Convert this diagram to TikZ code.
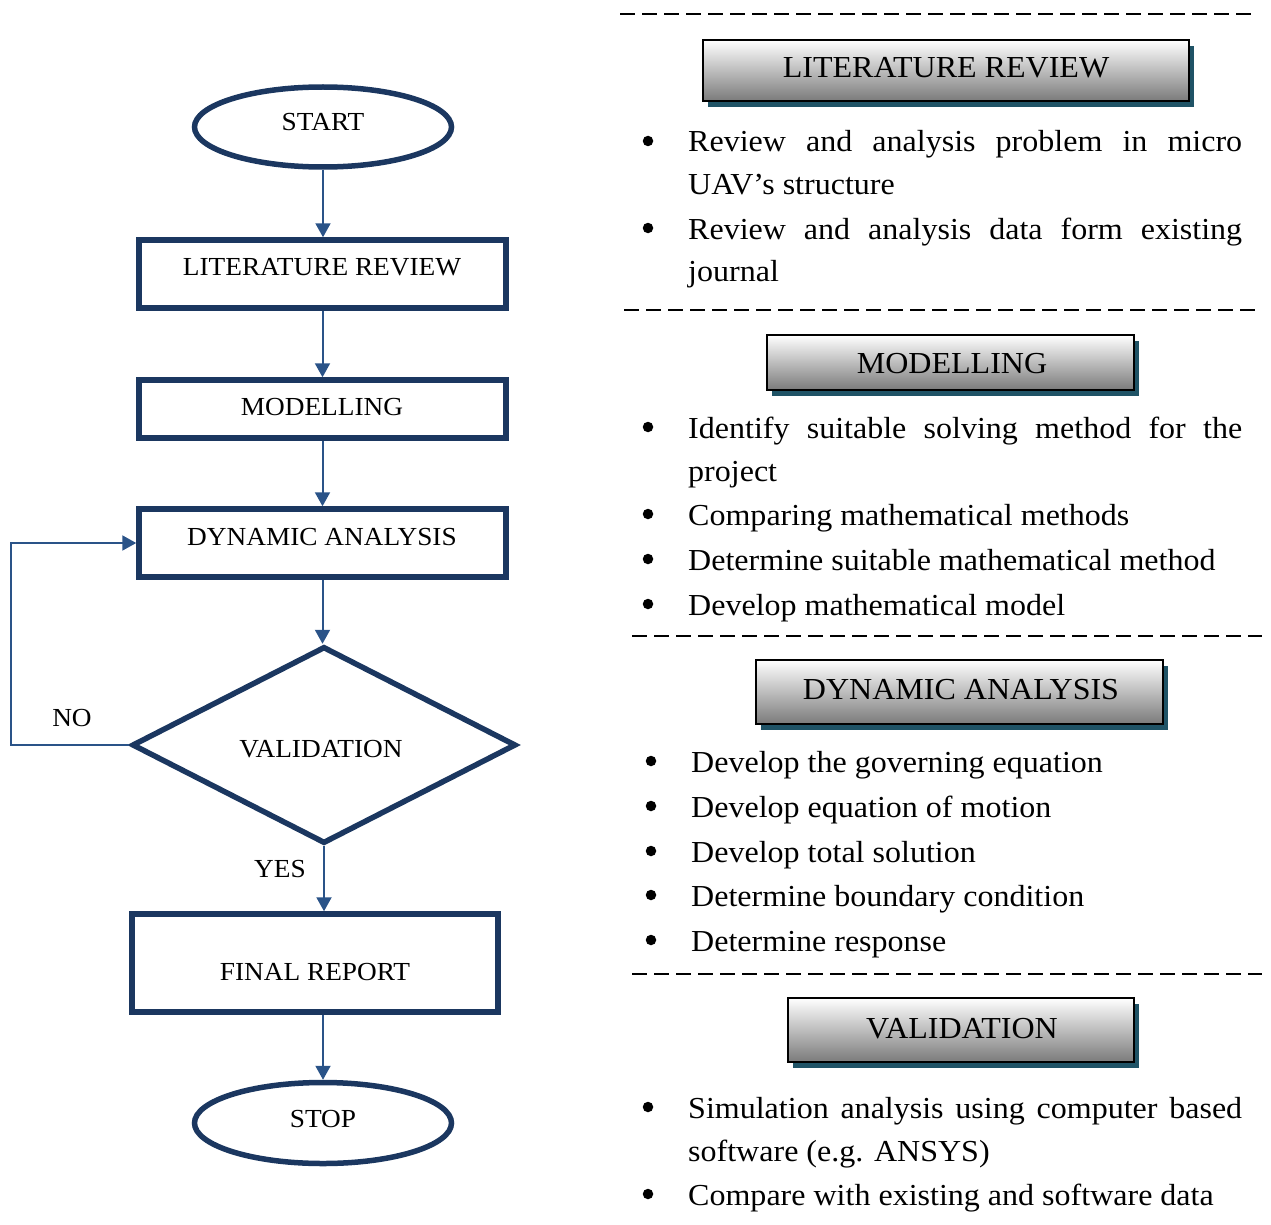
\documentclass[tikz,border=0pt]{standalone}
\usepackage{fontspec}
\setmainfont{Liberation Serif}[FakeStretch=1.05]
\usetikzlibrary{shapes.geometric,arrows.meta,shadows}
\definecolor{navy}{HTML}{1B3760}
\definecolor{arrowblue}{HTML}{2A5388}
\definecolor{shadowteal}{HTML}{1F5366}
\newcommand{\lsize}{\fontsize{26}{30}\selectfont}
\newcommand{\rsize}{\fontsize{30.5}{40}\selectfont}
\begin{document}
\begin{tikzpicture}[x=1pt,y=-1pt,
  flowbox/.style={draw=navy,line width=5.5pt,inner sep=0pt},
  flowtext/.style={inner sep=0pt,font=\lsize},
  flowarrow/.style={draw=arrowblue,line width=2pt,-{Triangle[length=14pt,width=15pt]}},
  header/.style={draw=black,line width=2.5pt,inner sep=0pt,top color=white,bottom color=black!52,
    drop shadow={shadow xshift=5pt,shadow yshift=-6pt,fill=shadowteal,opacity=1}},
  headtext/.style={inner sep=0pt,font=\rsize},
  bodytext/.style={inner sep=0pt,anchor=base west,font=\rsize},
  bulletdot/.style={circle,fill=black,inner sep=0pt,minimum size=10.5pt},
  sep/.style={draw=black,line width=2pt,dash pattern=on 15pt off 7pt}]
\useasboundingbox (0,0) rectangle (1271,1225);

% ---------- left flowchart ----------
\node[flowbox,ellipse,minimum width=257pt,minimum height=80pt] (start) at (323,127) {};
\node[flowtext] (starttext) at (323,122) {START};
\node[flowbox,minimum width=367pt,minimum height=68pt] (lr) at (322.5,274) {};
\node[flowtext] (lrtext) at (322,267) {LITERATURE REVIEW};
\node[flowbox,minimum width=367pt,minimum height=58pt] (mod) at (322.5,409) {};
\node[flowtext] (modtext) at (322,407) {MODELLING};
\node[flowbox,minimum width=367pt,minimum height=68pt] (dyn) at (322.5,543) {};
\node[flowtext] (dyntext) at (322,537) {DYNAMIC ANALYSIS};
\node[flowbox,diamond,minimum width=384pt,minimum height=197pt] (val) at (324,745) {};
\node[flowtext] (valtext) at (321,749) {VALIDATION};
\node[flowbox,minimum width=366pt,minimum height=98pt] (fin) at (315,963) {};
\node[flowtext] (fintext) at (315,972) {FINAL REPORT};
\node[flowbox,ellipse,minimum width=257pt,minimum height=81pt] (stop) at (323,1123) {};
\node[flowtext] (stoptext) at (323,1119) {STOP};
\node[flowtext] (yes) at (280,869) {YES};
\node[flowtext] (no) at (72,718) {NO};
\coordinate (loopcorner) at (11,745);

\draw[flowarrow] (start.south) -- (start.south |- lr.north);
\draw[flowarrow] (lr.south) -- (mod.north);
\draw[flowarrow] (mod.south) -- (dyn.north);
\draw[flowarrow] (dyn.south) -- (dyn.south |- val.north);
\draw[flowarrow] (val.south) -- (val.south |- fin.north);
\draw[flowarrow] (stop.north |- fin.south) -- (stop.north);
\draw[flowarrow] (val.west) -- (loopcorner) |- (dyn.west);

% ---------- right column ----------
\draw[sep] (620,14) -- (1252,14);
\draw[sep] (624,310) -- (1255,310);
\draw[sep] (632,636) -- (1262,636);
\draw[sep] (632,974) -- (1262,974);

\node[header,minimum width=486pt,minimum height=61pt] (hlr) at (946,70.5) {};
\node[headtext] (hlrtext) at (946,68) {LITERATURE REVIEW};
\node[header,minimum width=367pt,minimum height=55pt] (hmod) at (950.5,362.5) {};
\node[headtext] (hmodtext) at (952,364) {MODELLING};
\node[header,minimum width=407pt,minimum height=64pt] (hdyn) at (959.5,692) {};
\node[headtext] (hdyntext) at (961,690) {DYNAMIC ANALYSIS};
\node[header,minimum width=346pt,minimum height=64pt] (hval) at (961,1030) {};
\node[headtext] (hvaltext) at (962,1029) {VALIDATION};

% literature review bullets
\node[bulletdot] (d1) at (648,141) {};
\node[bodytext] (t1a) at (688,152) {\makebox[554pt][s]{Review and analysis problem in micro}};
\node[bodytext] (t1b) at (688,194) {UAV’s structure};
\node[bulletdot] (d2) at (648,228) {};
\node[bodytext] (t2a) at (688,239) {\makebox[554pt][s]{Review and analysis data form existing}};
\node[bodytext] (t2b) at (688,281) {journal};

% modelling bullets
\node[bulletdot] (d3) at (648,427) {};
\node[bodytext] (t3a) at (688,438) {\makebox[554pt][s]{Identify suitable solving method for the}};
\node[bodytext] (t3b) at (688,481) {project};
\node[bulletdot] (d4) at (648,514) {};
\node[bodytext] (t4) at (688,525) {Comparing mathematical methods};
\node[bulletdot] (d5) at (648,559) {};
\node[bodytext] (t5) at (688,570) {Determine suitable mathematical method};
\node[bulletdot] (d6) at (648,604) {};
\node[bodytext] (t6) at (688,615) {Develop mathematical model};

% dynamic analysis bullets
\node[bulletdot] (d7) at (651,761) {};
\node[bodytext] (t7) at (691,772) {Develop the governing equation};
\node[bulletdot] (d8) at (651,806) {};
\node[bodytext] (t8) at (691,817) {Develop equation of motion};
\node[bulletdot] (d9) at (651,851) {};
\node[bodytext] (t9) at (691,862) {Develop total solution};
\node[bulletdot] (d10) at (651,895) {};
\node[bodytext] (t10) at (691,906) {Determine boundary condition};
\node[bulletdot] (d11) at (651,940) {};
\node[bodytext] (t11) at (691,951) {Determine response};

% validation bullets
\node[bulletdot] (d12) at (648,1107) {};
\node[bodytext] (t12a) at (688,1118) {\makebox[554pt][s]{Simulation analysis using computer based}};
\node[bodytext] (t12b) at (688,1161) {software (e.g. ANSYS)};
\node[bulletdot] (d13) at (648,1194) {};
\node[bodytext] (t13) at (688,1205) {Compare with existing and software data};
\end{tikzpicture}
\end{document}
